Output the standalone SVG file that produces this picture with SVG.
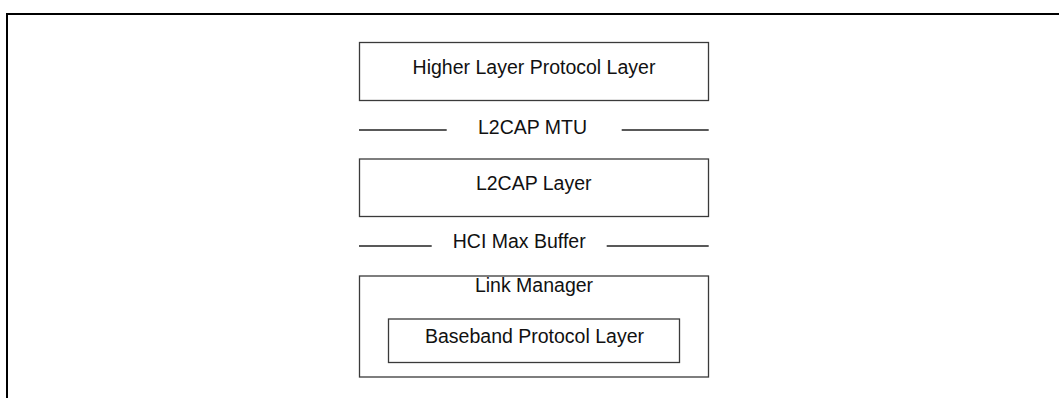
<svg xmlns="http://www.w3.org/2000/svg" width="1059" height="398" viewBox="0 0 1059 398">
<style>
.box{fill:none;stroke:#3a3a3a;stroke-width:1.3}
.ln{stroke:#222;stroke-width:1.3}
.t{font-family:"Liberation Sans",Arial,sans-serif;font-size:19.5px;fill:#111;text-anchor:middle}
</style>
<rect width="1059" height="398" fill="#fff"/>
<g id="frame" stroke="#000" stroke-width="2" fill="none">
<line x1="6" y1="14" x2="1059" y2="14"/>
<line x1="7" y1="13" x2="7" y2="398"/>
</g>
<g id="higher">
<rect class="box" x="359.5" y="42.5" width="349" height="58"/>
<text class="t" x="534" y="74">Higher Layer Protocol Layer</text>
</g>
<g id="l2cap">
<rect class="box" x="359.5" y="159" width="349" height="57.5"/>
<text class="t" x="533.7" y="190">L2CAP Layer</text>
</g>
<g id="linkmanager">
<rect class="box" x="359.5" y="276" width="349" height="101"/>
<text class="t" x="534" y="291.7">Link Manager</text>
</g>
<g id="baseband">
<rect class="box" x="388.5" y="319" width="291" height="43.5"/>
<text class="t" x="534.5" y="342.7">Baseband Protocol Layer</text>
</g>
<g id="connectors">
<line class="ln" x1="359" y1="130" x2="446.7" y2="130"/>
<line class="ln" x1="621.7" y1="130" x2="708.7" y2="130"/>
<line class="ln" x1="359" y1="246" x2="431.7" y2="246"/>
<line class="ln" x1="606.7" y1="246" x2="708.7" y2="246"/>
</g>
<g id="labels">
<text class="t" x="532.5" y="134">L2CAP MTU</text>
<text class="t" x="519.2" y="248.3">HCI Max Buffer</text>
</g>
</svg>
